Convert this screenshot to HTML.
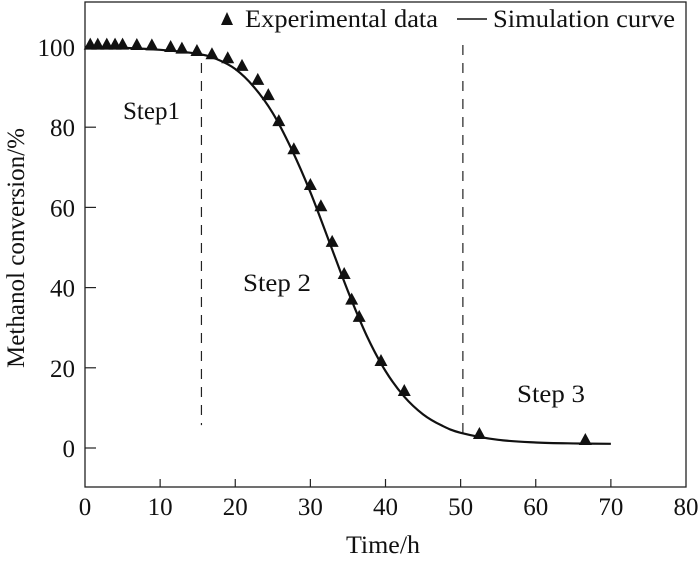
<!DOCTYPE html>
<html><head><meta charset="utf-8"><style>
body{margin:0;background:#fff}
svg text{font-family:"Liberation Serif",serif;fill:#111}
</style></head><body>
<svg id="chart" width="700" height="559" viewBox="0 0 700 559">
<rect x="85" y="2" width="601" height="485" fill="none" stroke="#222" stroke-width="1.3"/>
<g id="ticks"></g>
<g id="marks"></g>
<text x="383" y="553" font-size="25" text-anchor="middle" textLength="74" lengthAdjust="spacingAndGlyphs">Time/h</text>
<text transform="translate(24,248) rotate(-90)" font-size="25" text-anchor="middle" textLength="240" lengthAdjust="spacingAndGlyphs">Methanol conversion/%</text>
<g>
<polygon points="227,12 221,25 233,25" fill="#111"/>
<text x="245" y="27" font-size="25" textLength="193" lengthAdjust="spacingAndGlyphs">Experimental data</text>
<line x1="457" y1="19" x2="487" y2="19" stroke="#111" stroke-width="1.5"/>
<text x="493" y="27" font-size="25" textLength="182" lengthAdjust="spacingAndGlyphs">Simulation curve</text>
</g>
<text x="123" y="119" font-size="25" textLength="57" lengthAdjust="spacingAndGlyphs">Step1</text>
<text x="243" y="291" font-size="25" textLength="68" lengthAdjust="spacingAndGlyphs">Step 2</text>
<text x="517" y="402" font-size="25" textLength="68" lengthAdjust="spacingAndGlyphs">Step 3</text>
</svg>
<script>
const xTicks=[0,10,20,30,40,50,60,70,80];
const yTicks=[0,20,40,60,80,100];
const expTime=[0.7,1.7,2.9,4,5,6.9,8.9,11.4,12.9,14.9,16.9,19,20.9,23,24.4,25.8,27.8,30,31.4,32.9,34.5,35.5,36.5,39.4,42.5,52.5,66.6];
const expConv=[100.6,100.6,100.6,100.6,100.6,100.5,100.4,100,99.6,99,98.2,97.2,95.3,91.8,88,81.5,74.5,65.6,60.3,51.4,43.4,37,32.7,21.7,14.2,3.5,2];
const simTime=[0,5,10,15,17.5,20,22.5,25,27.5,30,32.5,35,37.5,40,42.5,45,47.5,50,55,60,65,70];
const simConv=[100,99.8,99.3,98.3,97,94.5,90,83.5,74.5,63.8,51.5,39.1,28,19.2,12.8,8.4,5.6,3.8,2.04,1.38,1.14,1.05];
const dividerTime=[15.5,50.3];
const dividerTop=[96,100.5];
const dividerBottom=[5.7,2.7];
const X=t=>85+t*601/80;
const Y=v=>448-v*4.01;
const NS='http://www.w3.org/2000/svg';
function mk(tag,attrs,parent){const e=document.createElementNS(NS,tag);for(const k in attrs)e.setAttribute(k,attrs[k]);parent.appendChild(e);return e;}
const tg=document.getElementById('ticks'),mg=document.getElementById('marks');
xTicks.forEach(t=>{
 if(t>0&&t<80){const l=mk('line',{x1:X(t),x2:X(t),y1:487,y2:479,stroke:'#222','stroke-width':1.2},tg);
 
 }
 const tx=mk('text',{x:X(t),y:515,'font-size':25,'text-anchor':'middle'},tg);tx.textContent=t;
 
 
});
yTicks.forEach(v=>{
 const l=mk('line',{x1:85,x2:96,y1:Y(v),y2:Y(v),stroke:'#222','stroke-width':1.2},tg);
 
 
 const tx=mk('text',{x:75,y:Y(v)+9,'font-size':25,'text-anchor':'end'},tg);tx.textContent=v;
 
 
});
dividerTime.forEach((t,i)=>{
 const l=mk('line',{x1:X(t),x2:X(t),y1:Y(dividerTop[i]),y2:Y(dividerBottom[i]),stroke:'#222','stroke-width':1.2,'stroke-dasharray':'10,8'},mg);
 
 
});
const pts=simTime.map((t,i)=>[X(t),Y(simConv[i])]);
let d='M'+pts[0][0]+','+pts[0][1];
for(let i=0;i<pts.length-1;i++){const p0=pts[Math.max(0,i-1)],p1=pts[i],p2=pts[i+1],p3=pts[Math.min(pts.length-1,i+2)];
 d+=` C${p1[0]+(p2[0]-p0[0])/6},${p1[1]+(p2[1]-p0[1])/6} ${p2[0]-(p3[0]-p1[0])/6},${p2[1]-(p3[1]-p1[1])/6} ${p2[0]},${p2[1]}`;}
const c=mk('path',{d:d,fill:'none',stroke:'#111','stroke-width':2.2},mg);


expTime.forEach((t,i)=>{const x=X(t),y=Y(expConv[i]);
 const p=mk('polygon',{points:`${x},${y-7} ${x-6.5},${y+5} ${x+6.5},${y+5}`,fill:'#111'},mg);
 
 
});
</script>
</body></html>
